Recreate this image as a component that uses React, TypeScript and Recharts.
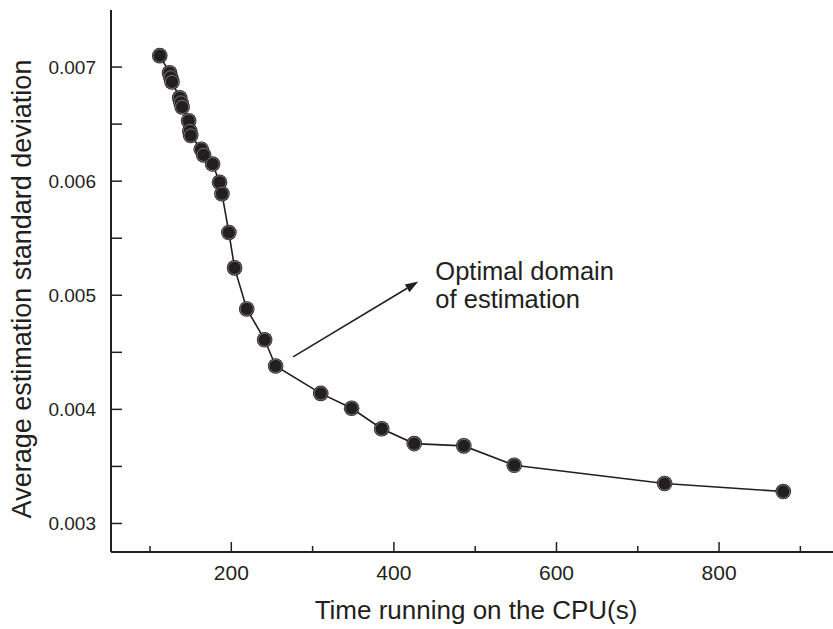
import { LineChart, Line, XAxis, YAxis, ReferenceLine, ReferenceDot } from 'recharts';

// CPU time (s) against average estimation standard deviation
const cpuTime = [
  112, 124, 125.5, 127, 136.5, 138, 139.5, 147.5, 149, 150, 163, 166, 177, 185.5, 188.5,
  197, 204, 219, 241, 254.5, 310, 348, 385, 425, 486, 548, 733, 879,
];
const stdDev = [
  0.0071, 0.00695, 0.00691, 0.00687, 0.00673, 0.00669, 0.00665, 0.00653, 0.00644, 0.00640,
  0.00628, 0.00623, 0.00615, 0.00599, 0.00589, 0.00555, 0.00524, 0.00488, 0.00461, 0.00438,
  0.00414, 0.00401, 0.00383, 0.00370, 0.00368, 0.00351, 0.00335, 0.00328,
];

const xTicks = [100, 200, 300, 400, 500, 600, 700, 800, 900];
const yTicks = [0.003, 0.0035, 0.004, 0.0045, 0.005, 0.0055, 0.006, 0.0065, 0.007];

const arrowFrom = { x: 276, y: 0.00446 };
const arrowTo = { x: 430, y: 0.00512 };
const noteAt = { x: 451, y: 0.00513 };
const noteLines = ['Optimal domain', 'of estimation'];

const data = cpuTime.map((t, i) => ({ time: t, sd: stdDev[i] }));

const INK = '#231f20';
const FONT = '"Liberation Sans", Arial, Helvetica, sans-serif';

const isMajorY = (v: number) => Math.abs(v * 1000 - Math.round(v * 1000)) < 1e-6;

const YTick = (props: any) => {
  const { x, y, payload } = props;
  return (
    <g>
      <line x1={x} x2={x + 11} y1={y} y2={y} stroke={INK} strokeWidth={1.5} />
      {isMajorY(payload.value) && (
        <text x={x - 15} y={y} dy="0.36em" textAnchor="end" fontSize={19} fontFamily={FONT} fill={INK}>
          {payload.value.toFixed(3)}
        </text>
      )}
    </g>
  );
};

const XTick = (props: any) => {
  const { x, y, payload } = props;
  const major = payload.value % 200 === 0;
  return (
    <g>
      <line x1={x} x2={x} y1={y} y2={y - (major ? 10 : 6)} stroke={INK} strokeWidth={1.5} />
      {major && (
        <text x={x} y={y + 20} dy="0.36em" textAnchor="middle" fontSize={21} fontFamily={FONT} fill={INK}>
          {payload.value}
        </text>
      )}
    </g>
  );
};

const Marker = (props: any) => {
  const { cx, cy, index } = props;
  return (
    <g key={index}>
      <circle cx={cx} cy={cy} r={7.8} fill={INK} />
      <circle cx={cx} cy={cy} r={6.6} fill="none" stroke="#8c8c8c" strokeWidth={0.8} />
    </g>
  );
};

const Arrow = (props: any) => {
  const { x1, y1, x2, y2 } = props;
  const ang = Math.atan2(y2 - y1, x2 - x1);
  const len = 13;
  const half = 4.5;
  const bx = x2 - len * Math.cos(ang);
  const by = y2 - len * Math.sin(ang);
  const px = -Math.sin(ang) * half;
  const py = Math.cos(ang) * half;
  return (
    <g>
      <line x1={x1} y1={y1} x2={bx} y2={by} stroke={INK} strokeWidth={1.6} />
      <polygon points={`${x2},${y2} ${bx + px},${by + py} ${bx - px},${by - py}`} fill={INK} />
    </g>
  );
};

const Note = (props: any) => {
  const { cx, cy } = props;
  return (
    <text x={cx} y={cy} fontSize={25.5} fontFamily={FONT} fill={INK}>
      {noteLines.map((s, i) => (
        <tspan key={s} x={cx} dy={i === 0 ? 0 : 28}>
          {s}
        </tspan>
      ))}
    </text>
  );
};

export default function App() {
  return (
    <div style={{ position: 'absolute', left: 0, top: 0, width: 833, height: 629, overflow: 'hidden', background: '#fff' }}>
      <LineChart width={860} height={629} data={data} margin={{ top: 10, right: 19, bottom: 0, left: 0 }}>
        <XAxis
          xAxisId="top"
          orientation="top"
          type="number"
          dataKey="time"
          domain={[52, 950]}
          height={0}
          tick={false}
          tickLine={false}
          axisLine={{ stroke: INK, strokeWidth: 2 }}
        />
        <XAxis
          type="number"
          dataKey="time"
          domain={[52, 950]}
          ticks={xTicks}
          height={77}
          tickSize={0}
          tickMargin={0}
          tickLine={false}
          tick={<XTick />}
          axisLine={{ stroke: INK, strokeWidth: 2 }}
          label={{
            content: (p: any) => {
              const vb = p.viewBox;
              return (
                <text x={vb.x + vb.width / 2} y={vb.y + 67} textAnchor="middle" fontSize={26} fontFamily={FONT} fill={INK}>
                  Time running on the CPU(s)
                </text>
              );
            },
          }}
        />
        <YAxis
          type="number"
          domain={[0.00275, 0.0075]}
          ticks={yTicks}
          width={111}
          tickSize={0}
          tickMargin={0}
          tickLine={false}
          tick={<YTick />}
          axisLine={{ stroke: INK, strokeWidth: 2 }}
          label={{
            content: (p: any) => {
              const vb = p.viewBox;
              const cx = vb.x + 31;
              const cy = vb.y + vb.height / 2 + 8;
              return (
                <text x={cx} y={cy} transform={`rotate(-90 ${cx} ${cy})`} textAnchor="middle" fontSize={27} fontFamily={FONT} fill={INK}>
                  Average estimation standard deviation
                </text>
              );
            },
          }}
        />
        <Line
          type="linear"
          dataKey="sd"
          xAxisId={0}
          stroke={INK}
          strokeWidth={1.6}
          dot={<Marker />}
          activeDot={false}
          isAnimationActive={false}
        />
        <ReferenceLine segment={[arrowFrom, arrowTo]} shape={<Arrow />} />
        <ReferenceDot x={noteAt.x} y={noteAt.y} shape={<Note />} />
      </LineChart>
    </div>
  );
}
